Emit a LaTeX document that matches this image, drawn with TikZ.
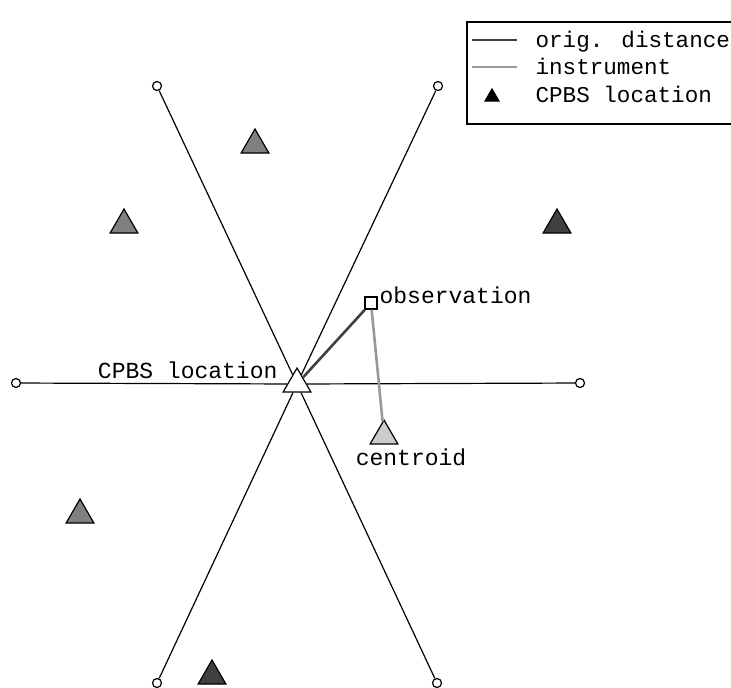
\documentclass[tikz,border=0pt]{standalone}
\usepackage{fontspec}
\setmainfont{Liberation Mono}
\usetikzlibrary{shapes.geometric}

\definecolor{darkgr}{gray}{0.25}
\definecolor{midgr}{gray}{0.5}
\definecolor{lightgr}{gray}{0.8}
\definecolor{instgr}{gray}{0.6}

\begin{document}
\begin{tikzpicture}[x=0.5pt,y=-0.5pt,semithick,
    font=\fontsize{11.5}{13.8}\selectfont,
    station/.style={regular polygon,regular polygon sides=3,draw,inner sep=0pt,minimum size=16pt},
    tip/.style={circle,draw,fill=white,inner sep=0pt,minimum size=4.5pt},
    lbl/.style={anchor=base west,inner sep=0pt}]

	\useasboundingbox (0,0) rectangle (731,687);

	% stations around
	\node[station,fill=midgr] (s1) at (255,145) {};
	\node[station,fill=midgr] (s2) at (124,225) {};
	\node[station,fill=midgr] (s3) at (80,515) {};
	\node[station,fill=darkgr] (s4) at (557,225) {};
	\node[station,fill=darkgr] (s5) at (212,676) {};

	% ends of the search lines
	\node[tip] (ul) at (157,86) {};
	\node[tip] (ur) at (438,86) {};
	\node[tip] (lt) at (16,383) {};
	\node[tip] (rt) at (580,383) {};
	\node[tip] (dl) at (157,683) {};
	\node[tip] (dr) at (437,683) {};

	\node[station,fill=white] (loc) at (297,384) {};
	\node[station,fill=lightgr] (cen) at (384,436) {};
	\node[draw,fill=white,inner sep=0pt,minimum size=6pt] (obs) at (371,303) {};

	\foreach \e in {ul,ur,lt,rt,dl,dr}
		\draw (loc) -- (\e);

	\draw[darkgr,line width=1.3pt] (loc) -- (obs);
	\draw[instgr,line width=1.3pt] (obs) -- (cen);

	\node[anchor=base east,inner sep=0pt] (locl) at (278,378) {CPBS location};
	\node[lbl] (obsl) at (379,303.5) {observation};
	\node[anchor=base,inner sep=0pt] (cenl) at (411,465) {centroid};

	% legend
	\draw (467,22) rectangle (745,124);
	\coordinate (k1a) at (472,40);
	\coordinate (k1b) at (517,40);
	\coordinate (k2a) at (472,67);
	\coordinate (k2b) at (517,67);
	\draw[darkgr,line width=1.3pt] (k1a) -- (k1b);
	\draw[instgr,line width=1.3pt] (k2a) -- (k2b);
	\node[station,fill=black,minimum size=8pt] (k3) at (492,97) {};
	\node[lbl,font=\fontsize{11.3}{13.6}\selectfont] (t1) at (535,47) {orig. distance};
	\node[lbl,font=\fontsize{11.3}{13.6}\selectfont] (t2) at (535,74.5) {instrument};
	\node[lbl,font=\fontsize{11.3}{13.6}\selectfont] (t3) at (535,102) {CPBS location};
\end{tikzpicture}
\end{document}
